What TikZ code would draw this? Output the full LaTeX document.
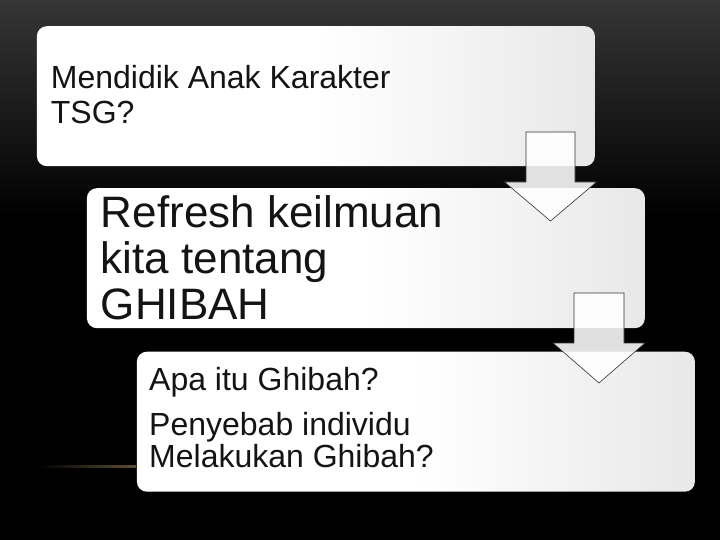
\documentclass[tikz,border=0pt]{standalone}
\usepackage{fontspec}
\setmainfont{Liberation Sans}
\usetikzlibrary{calc}
\definecolor{ink}{HTML}{141414}
\definecolor{glow}{HTML}{5C4F36}
\tikzset{
  box/.style = {rectangle, rounded corners = 10pt, minimum width = 558pt, minimum height = 140pt, inner sep = 0pt, anchor = north west, left color = white, right color = black!9, middle color = white},
  txt/.style = {anchor = north west, inner sep = 0pt, align = left, text = ink},
  blockarrow/.style = {draw = black!80, line width = 0.6pt, fill = white, fill opacity = 0.88, line join = miter}
}

\begin{document}
\begin{tikzpicture}[x = 1pt, y = -1pt]
\useasboundingbox (0, 0) rectangle (720, 540);
\shade[top color = black!79, bottom color = black] (0, 0) rectangle (720, 220);
\fill[black] (0, 220) rectangle (720, 540);
\shade[left color = black, right color = glow] (37, 465.8) rectangle (136, 467.6);
\node[box] (b1) at (36.7, 26) {};
\node[box] (b2) at (86.7, 188) {};
\node[box] (b3) at (136.7, 351.5) {};
\node[txt, font = \fontsize{32}{35}\selectfont] (t1) at ($(b1.north west) + (14, 39)$) {Mendidik Anak Karakter\\TSG?};
\node[txt, font = \fontsize{44}{46}\selectfont] (t2) at ($(b2.north west) + (14, 7.9)$) {Refresh keilmuan\\kita tentang\\GHIBAH};
\node[txt, font = \fontsize{32}{32}\selectfont] (t3) at ($(b3.north west) + (12.3, 15.2)$) {Apa itu Ghibah?\\[13pt]Penyebab individu\\Melakukan Ghibah?};
\coordinate (a1) at (550.5, 132);
\coordinate (a2) at (599, 293);
\draw[blockarrow] ($(a1) + (-24.5, 0)$) -- ($(a1) + (24.5, 0)$) -- ($(a1) + (24.5, 50)$) -- ($(a1) + (46, 50)$) -- ($(a1) + (0, 89)$) -- ($(a1) + (-46, 50)$) -- ($(a1) + (-24.5, 50)$) -- cycle;
\draw[blockarrow] ($(a2) + (-25, 0)$) -- ($(a2) + (25, 0)$) -- ($(a2) + (25, 50)$) -- ($(a2) + (46, 50)$) -- ($(a2) + (0, 90)$) -- ($(a2) + (-46, 50)$) -- ($(a2) + (-25, 50)$) -- cycle;
\end{tikzpicture}
\end{document}
